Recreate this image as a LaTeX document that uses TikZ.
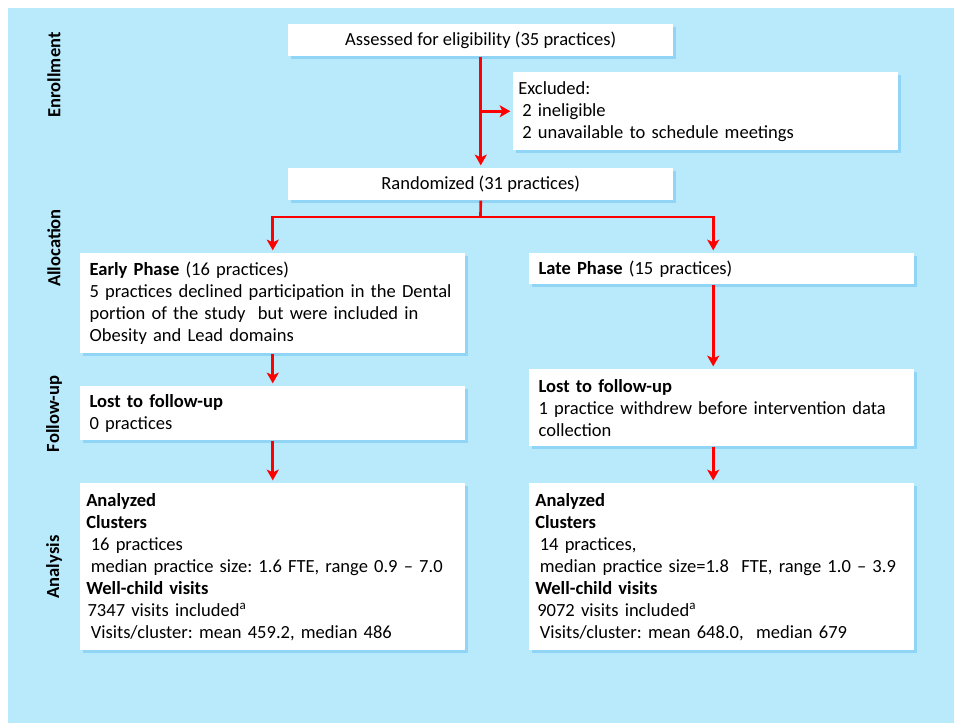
\documentclass[tikz,border=0pt]{standalone}
\usepackage{fontspec}
\setmainfont{Carlito}
\usetikzlibrary{arrows.meta,shadows}
\definecolor{bgblue}{HTML}{B9EAFC}
\definecolor{shblue}{HTML}{90D5F6}
\begin{document}
\begin{tikzpicture}[x=0.75pt,y=-0.75pt,
  txt/.style={font=\fontsize{13.9pt}{16.5pt}\selectfont\frenchspacing},
  box/.style={txt, fill=white, anchor=north west, minimum width=288.75pt, inner ysep=0pt,
    drop shadow={shadow xshift=2pt,shadow yshift=-2pt,fill=shblue,opacity=1}},
  cbox/.style={box, align=center, minimum height=24pt},
  wbox/.style={box, align=left, inner xsep=7pt, text width=274.75pt},
  abox/.style={box, align=left, inner xsep=4.5pt, text width=279.75pt},
  ebox/.style={box, align=left, inner xsep=3.75pt, text width=281.25pt},
  side/.style={font=\fontsize{13.9pt}{16.5pt}\selectfont\bfseries, rotate=90},
  arr/.style={draw=red, line width=2pt, -{Stealth[length=8pt,width=9pt,inset=2pt]}, shorten >=2pt},
  seg/.style={draw=red, line width=2pt}
]
\useasboundingbox (0,0) rectangle (954,723);
\fill[bgblue] (8,8) rectangle (954,723);

% side labels
\node[side] (enr) at (54,75) {Enrollment};
\node[side] (alloc) at (54,248) {Allocation};
\node[side] (fup) at (54,414) {Follow-up};
\node[side] (anl) at (54,567) {Analysis};

% boxes
\node[cbox] (assess) at (288,24) {Assessed for eligibility (35 practices)};
\node[ebox, minimum height=58.5pt] (excl) at (513,72) {Excluded:\\
\hspace*{3pt}2 ineligible\\
\hspace*{3pt}2 unavailable to schedule meetings};
\node[cbox] (rand) at (288,168) {Randomized (31 practices)};

\node[wbox, minimum height=75pt] (early) at (80,253) {\textbf{Early Phase} (16 practices)\\
5 practices declined participation in the Dental\\
portion of the study\ \ but were included in\\
Obesity and Lead domains};
\node[wbox, minimum height=23.25pt] (late) at (529,253) {\textbf{Late Phase} (15 practices)};

\node[wbox, minimum height=40.5pt] (lostL) at (80,386) {\textbf{Lost to follow-up}\\
0 practices};
\node[wbox, minimum height=57.75pt] (lostR) at (529,369) {\textbf{Lost to follow-up}\\
1 practice withdrew before intervention data\\
collection};

\node[abox, minimum height=125.25pt] (anaL) at (80,483) {\textbf{Analyzed}\\
\textbf{Clusters}\\
\hspace*{3.4pt}16 practices\\
\hspace*{3.4pt}median practice size: 1.6 FTE, range 0.9 – 7.0\\
\textbf{Well-child visits}\\
\hspace*{1pt}7347 visits included\textsuperscript{a}\\
\hspace*{3.4pt}Visits/cluster: mean 459.2, median 486};
\node[abox, minimum height=125.25pt] (anaR) at (529,483) {\textbf{Analyzed}\\
\textbf{Clusters}\\
\hspace*{3.4pt}14 practices,\\
\hspace*{3.4pt}median practice size=1.8\ \ FTE, range 1.0 – 3.9\\
\textbf{Well-child visits}\\
\hspace*{1.5pt}9072 visits included\textsuperscript{a}\\
\hspace*{3.4pt}Visits/cluster: mean 648.0,\ \ median 679};

% connectors
\draw[arr] (assess.south) -- (rand.north);
\draw[arr] (assess.south |- excl.west) -- (excl.west);
\coordinate (split) at (480.5,217);
\draw[seg] (rand.south) -- (split);
\draw[arr] (split) -| (early.north);
\draw[arr] (split) -| ([xshift=-6.4pt]late.north);
\draw[arr] (early.south) -- (lostL.north);
\draw[arr] ([xshift=-6.4pt]late.south) -- ([xshift=-6.4pt]lostR.north);
\draw[arr] (lostL.south) -- (anaL.north);
\draw[arr] ([xshift=-6.4pt]lostR.south) -- ([xshift=-6.4pt]anaR.north);
\end{tikzpicture}
\end{document}
